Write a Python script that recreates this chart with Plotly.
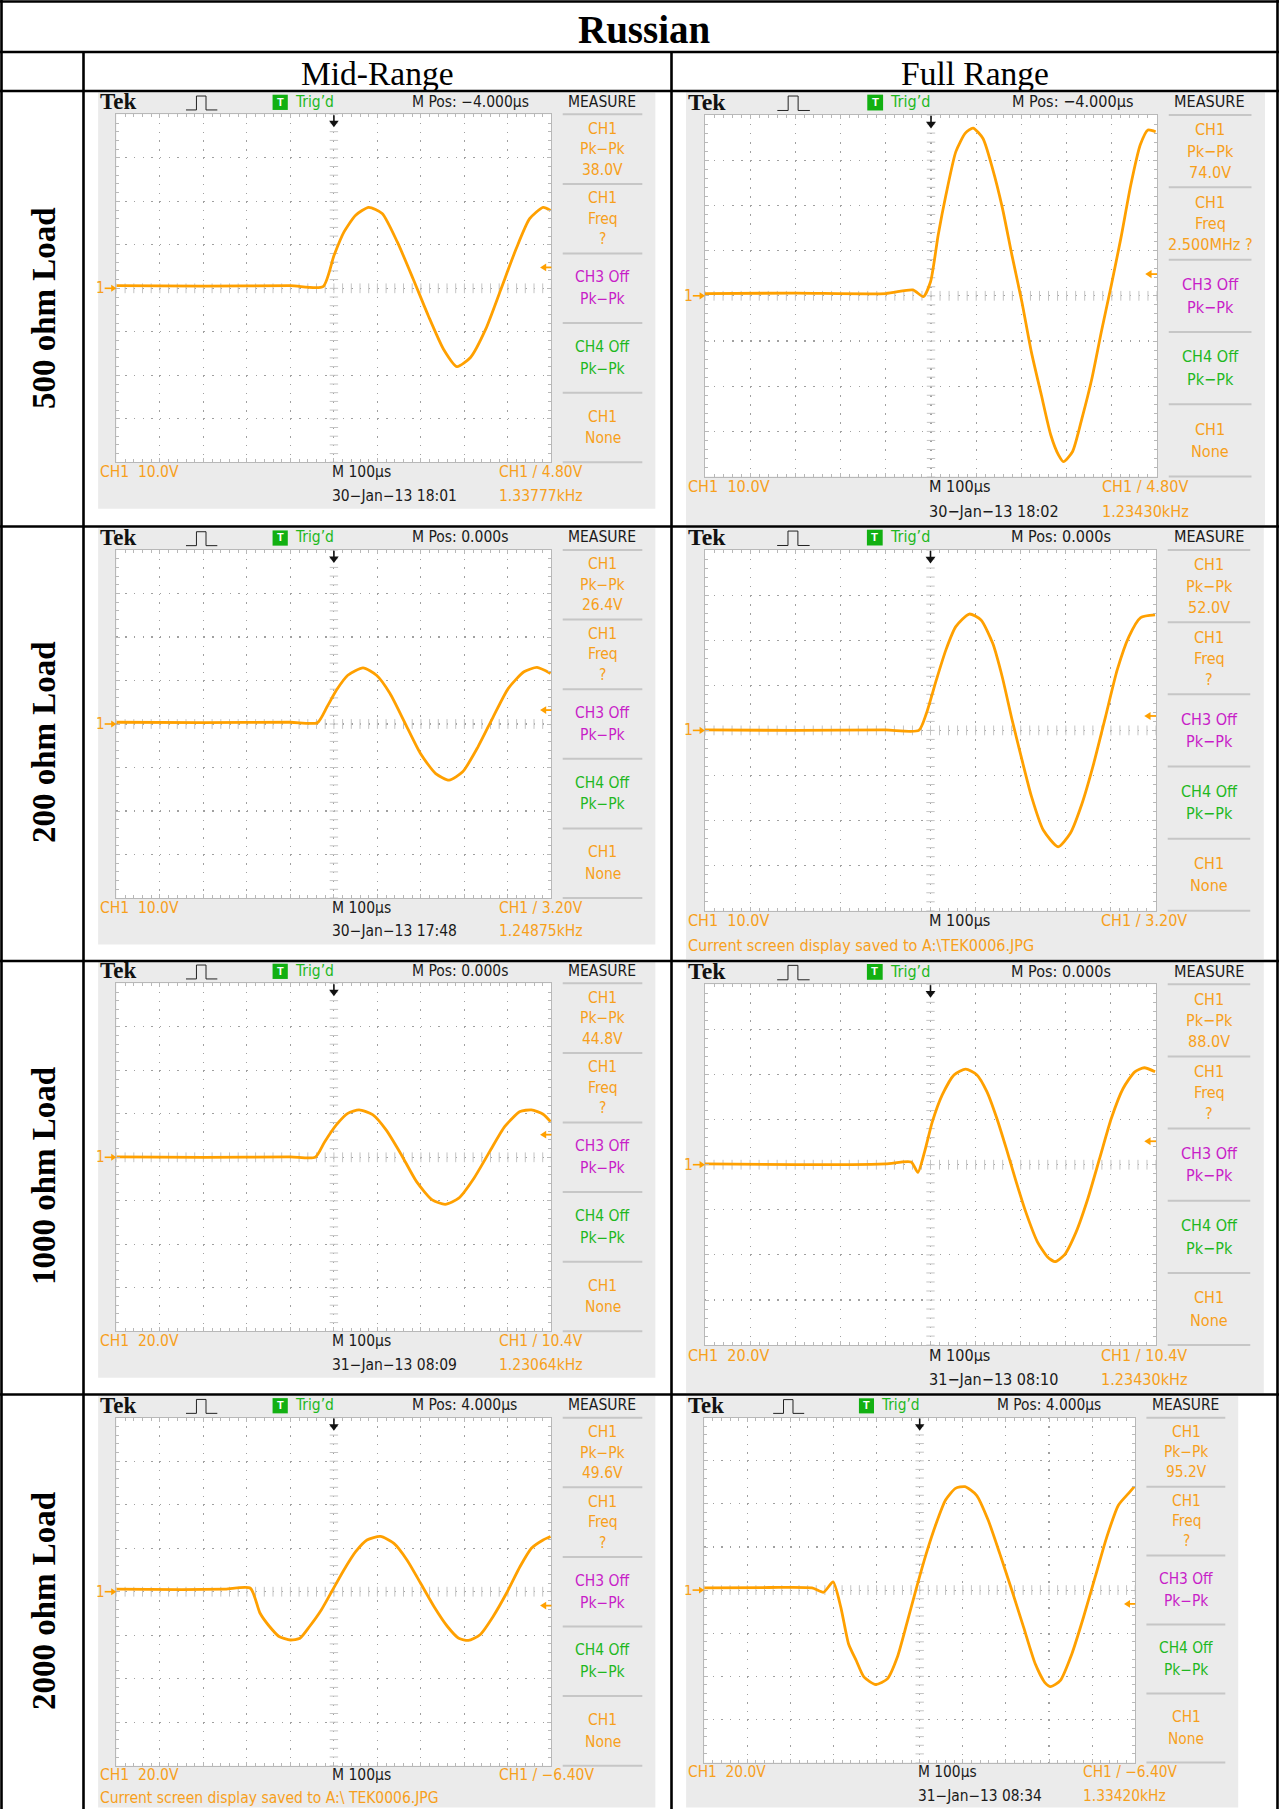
import numpy as np
import plotly.graph_objects as go

W, H = 1279, 1809

# ---------------- data (time in µs relative to trigger, volts) ----------------
t_500_mid = [-500, -300, -100, -25, 0, 23, 50, 80, 111, 146, 182, 217, 252, 283, 314, 349, 384, 419, 450, 481, 498]
v_500_mid = [0.6, 0.5, 0.6, 0.4, 7.5, 12.9, 16.8, 18.6, 17.2, 10.6, 2.2, -6.3, -14.0, -18.0, -15.9, -9.4, -0.2, 9.1, 16.0, 18.6, 17.9]

t_500_full = [-500, -300, -100, -40, -17, -1, 16, 33, 55, 76, 93, 115, 136, 158, 179, 201, 222, 244, 265, 282, 293, 313, 334, 356, 377, 399, 420, 442, 463, 480, 497]
v_500_full = [0.5, 0.6, 0.5, 1.3, -0.2, 3.1, 13.5, 22.3, 31.9, 36.0, 37.1, 34.8, 28.2, 19.4, 9.0, -1.3, -12.4, -21.9, -30.8, -35.2, -36.7, -34.5, -27.1, -18.3, -7.9, 2.4, 12.7, 24.5, 33.4, 36.7, 36.3]

t_200_mid = [-500, -300, -100, -38, -16, 6, 32, 67, 98, 129, 164, 199, 234, 265, 296, 331, 366, 401, 437, 467, 498]
v_200_mid = [0.4, 0.3, 0.4, 0.3, 3.9, 7.8, 11.2, 12.9, 11.2, 7.0, 0.1, -6.8, -11.4, -12.9, -11.0, -5.3, 1.6, 8.2, 12.0, 13.0, 11.6]

t_200_full = [-500, -300, -100, -26, -9, 13, 34, 56, 86, 112, 138, 159, 181, 203, 224, 250, 283, 310, 336, 362, 388, 414, 440, 466, 498]
v_200_full = [0.1, 0.0, 0.1, 0.0, 3.8, 11.2, 17.8, 23.0, 25.8, 24.5, 19.3, 11.9, 2.3, -6.6, -14.7, -22.1, -25.8, -22.8, -16.2, -7.3, 3.0, 13.4, 20.8, 25.0, 25.6]

t_1000_mid = [-500, -300, -100, -43, -21, 6, 32, 58, 89, 120, 155, 190, 226, 256, 287, 322, 358, 393, 428, 454, 481, 498]
v_1000_mid = [0.2, 0.0, 0.2, 0.0, 7.2, 15.0, 20.2, 21.8, 19.6, 12.6, 1.2, -11.2, -19.6, -21.6, -18.8, -9.6, 2.6, 14.2, 21.0, 21.8, 19.8, 16.4]

t_1000_full = [-500, -300, -100, -43, -28, -13, 4, 26, 52, 78, 103, 125, 147, 168, 190, 211, 237, 259, 276, 297, 323, 349, 375, 401, 427, 453, 474, 498]
v_1000_full = [0.4, 0.0, 0.4, 1.2, -3.4, 5.8, 19.0, 31.0, 39.8, 42.4, 39.8, 32.4, 20.6, 7.2, -7.6, -20.8, -34.2, -40.8, -43.0, -40.0, -29.8, -15.0, 2.8, 20.6, 33.8, 41.2, 43.0, 41.2]

t_2000_mid = [-500, -350, -250, -192, -170, -148, -126, -100, -78, -56, -29, -3, 23, 50, 76, 107, 138, 168, 199, 230, 261, 287, 309, 336, 366, 397, 428, 454, 481, 498]
v_2000_mid = [1.2, 1.0, 1.2, 1.6, -9.8, -16.0, -20.6, -22.2, -21.4, -16.0, -8.4, 0.8, 10.0, 18.4, 23.8, 25.4, 22.2, 14.6, 4.0, -6.8, -16.0, -21.4, -22.4, -19.8, -11.4, -0.6, 11.6, 20.0, 23.8, 25.4]

t_2000_full = [-500, -350, -250, -223, -201, -183, -165, -147, -129, -102, -75, -52, -30, -7, 15, 38, 60, 83, 105, 132, 159, 186, 214, 241, 268, 290, 304, 326, 353, 380, 407, 434, 461, 484, 498]
v_2000_full = [1.0, 1.2, 1.0, -1.0, 3.8, -8.0, -25.0, -32.8, -40.4, -43.8, -41.2, -31.2, -15.6, 1.4, 16.8, 30.8, 41.8, 47.2, 48.0, 44.0, 32.4, 16.8, -0.2, -17.2, -34.2, -42.8, -44.8, -42.0, -29.6, -12.6, 6.0, 24.6, 39.4, 44.8, 48.0]

TIMES = [t_500_mid, t_500_full, t_200_mid, t_200_full, t_1000_mid, t_1000_full, t_2000_mid, t_2000_full]
VOLTS = [v_500_mid, v_500_full, v_200_mid, v_200_full, v_1000_mid, v_1000_full, v_2000_mid, v_2000_full]

TITLE = "Russian"
COL_LABELS = ["Mid-Range", "Full Range"]
ROW_LABELS = ["500 ohm Load", "200 ohm Load", "1000 ohm Load", "2000 ohm Load"]

VDIV = [10, 10, 10, 10, 20, 20, 20, 20]
VDIV_TXT = ["10.0V", "10.0V", "10.0V", "10.0V", "20.0V", "20.0V", "20.0V", "20.0V"]
MPOS = ["M Pos: −4.000µs", "M Pos: −4.000µs", "M Pos: 0.000s", "M Pos: 0.000s",
        "M Pos: 0.000s", "M Pos: 0.000s", "M Pos: 4.000µs", "M Pos: 4.000µs"]
PKPK = ["38.0V", "74.0V", "26.4V", "52.0V", "44.8V", "88.0V", "49.6V", "95.2V"]
FREQ = ["?", "2.500MHz ?", "?", "?", "?", "?", "?", "?"]
TRIG = [4.8, 4.8, 3.2, 3.2, 10.4, 10.4, -6.4, -6.4]
TRIG_TXT = ["4.80V", "4.80V", "3.20V", "3.20V", "10.4V", "10.4V", "−6.40V", "−6.40V"]
DATE = ["30−Jan−13 18:01", "30−Jan−13 18:02", "30−Jan−13 17:48", None,
        "31−Jan−13 08:09", "31−Jan−13 08:10", None, "31−Jan−13 08:34"]
KHZ = ["1.33777kHz", "1.23430kHz", "1.24875kHz", None, "1.23064kHz", "1.23430kHz", None, "1.33420kHz"]
SAVED = ["", "", "", "Current screen display saved to A:\\TEK0006.JPG", "", "",
         "Current screen display saved to A:\\ TEK0006.JPG", ""]

# ---------------- geometry / styles ----------------
GEOM = [(116.4, 114.3, 43.5), (705.0, 115.0, 45.2),
        (116.4, 550.0, 43.5), (705.0, 550.0, 45.1),
        (116.4, 983.3, 43.5), (705.0, 984.3, 45.1),
        (116.4, 1417.7, 43.5), (704.2, 1417.7, 43.1)]
ROW_BOTTOM = [526.5, 526.5, 961, 961, 1394.5, 1394.5, 1809, 1809]

SCR = "Liberation Sans Narrow, Arial Narrow, DejaVu Sans Condensed, Roboto Condensed, Liberation Sans, Arial, sans-serif"
SERIF = "Liberation Serif, Times New Roman, DejaVu Serif, serif"
ORANGE = "#ffa000"
ORANGE_T = "#f7a01c"
MAGENTA = "#c81ec8"
GREEN_T = "#1fb81f"
BLACK_T = "#1a1a1a"
GRAYBG = "#ebebeb"
EDGE = "#b8b8b8"
CTICK = "#c4c4c4"
GRID = "#a0a0a0"
SEP = "#c6c6c6"

shapes, anns = [], []


def X(x):
    return x / W


def Y(y):
    return 1 - y / H


def rect(x0, y0, x1, y1, fill):
    shapes.append(dict(type='rect', xref='paper', yref='paper', x0=X(x0), x1=X(x1),
                       y0=Y(y1), y1=Y(y0), fillcolor=fill, line=dict(width=0), layer='below'))


def seg(x0, y0, x1, y1, color, w, layer='above'):
    shapes.append(dict(type='line', xref='paper', yref='paper', x0=X(x0), x1=X(x1),
                       y0=Y(y0), y1=Y(y1), line=dict(color=color, width=w), layer=layer))


def poly(pts, color, closed=True, lw=0):
    p = 'M ' + ' L '.join(f'{X(a):.6f},{Y(b):.6f}' for a, b in pts) + (' Z' if closed else '')
    shapes.append(dict(type='path', xref='paper', yref='paper', path=p,
                       fillcolor=color if closed else 'rgba(0,0,0,0)',
                       line=dict(color=color, width=lw)))


def txt(x, y, s, size, color, family=SCR, xa='left', ya='middle', angle=0):
    anns.append(dict(x=X(x), y=Y(y), xref='paper', yref='paper', text=s, showarrow=False,
                     xanchor=xa, yanchor=ya, textangle=angle,
                     font=dict(size=size, color=color, family=family)))


fig = go.Figure()
axes = {}

for i, (L, T, d) in enumerate(GEOM):
    k = d / 43.5
    fs = 15.5 * k
    vd = VDIV[i]
    # instrument screen background
    rect(L - 0.42 * d, T - 0.5 * d, L + 12.39 * d, min(T + 9.07 * d, ROW_BOTTOM[i] - 1.5), GRAYBG)
    rect(L, T, L + 10 * d, T + 8 * d, "white")

    n = i + 1
    xa = 'x' if n == 1 else f'x{n}'
    ya = 'y' if n == 1 else f'y{n}'
    dot = f"1.4px,{0.2 * d - 1.4:.2f}px"
    common = dict(showticklabels=False, zeroline=False, showgrid=True, gridcolor=GRID,
                  griddash=dot, gridwidth=1.1, ticks='inside', ticklen=4, tickcolor=EDGE,
                  showline=True, linecolor=EDGE, linewidth=1, mirror='allticks', fixedrange=True)
    axes['xaxis' if n == 1 else f'xaxis{n}'] = dict(
        domain=[X(L), X(L + 10 * d)], range=[-500, 500], anchor=ya, tick0=0, dtick=100,
        minor=dict(dtick=20, tick0=0, ticks='inside', ticklen=3, tickcolor=EDGE, showgrid=False), **common)
    axes['yaxis' if n == 1 else f'yaxis{n}'] = dict(
        domain=[Y(T + 8 * d), Y(T)], range=[-4 * vd, 4 * vd], anchor=xa, tick0=0, dtick=vd,
        minor=dict(dtick=vd / 5, tick0=0, ticks='inside', ticklen=3, tickcolor=EDGE, showgrid=False), **common)

    # centre-cross graticule ticks
    cy = np.arange(-20, 21) * vd / 5
    cx = np.arange(-25, 26) * 20
    fig.add_trace(go.Scatter(x=np.zeros_like(cy), y=cy, mode='markers', xaxis=xa, yaxis=ya,
                             marker=dict(symbol='line-ew', size=6, line=dict(color=CTICK, width=1)),
                             hoverinfo='skip', showlegend=False))
    fig.add_trace(go.Scatter(x=cx, y=np.zeros_like(cx, dtype=float), mode='markers', xaxis=xa, yaxis=ya,
                             marker=dict(symbol='line-ns', size=7, line=dict(color=CTICK, width=1)),
                             hoverinfo='skip', showlegend=False))
    # waveform
    fig.add_trace(go.Scatter(x=TIMES[i], y=VOLTS[i], mode='lines', xaxis=xa, yaxis=ya,
                             line=dict(color=ORANGE, width=2.8, shape='spline', smoothing=0.6),
                             hoverinfo='skip', showlegend=False))

    # top status line
    ty = T - 0.29 * d
    txt(L - 0.42 * d, ty, "<b>Tek</b>", 23 * k, "#111111", family=SERIF)
    cxp = L + 1.96 * d
    yb, yt = T - 0.1 * d, T - 0.42 * d
    poly([(cxp - 0.36 * d, yb), (cxp - 0.12 * d, yb), (cxp - 0.12 * d, yt), (cxp + 0.1 * d, yt),
          (cxp + 0.1 * d, yb), (cxp + 0.36 * d, yb)], "#222222", closed=False, lw=1)
    shapes.append(dict(type='rect', xref='paper', yref='paper', x0=X(L + 3.59 * d), x1=X(L + 3.94 * d),
                       y0=Y(T - 0.1 * d), y1=Y(T - 0.45 * d), fillcolor="#12b012", line=dict(width=0)))
    txt(L + 3.765 * d, ty, "<b>T</b>", 11 * k, "white", family="Liberation Sans, Arial", xa='center')
    txt(L + 4.05 * d, ty, "Trig’d", fs, GREEN_T)
    txt(L + 6.75 * d, ty, MPOS[i], fs, BLACK_T)
    txt(L + 11.17 * d, ty, "MEASURE", fs, BLACK_T, xa='center')

    # trigger position arrow (top, black)
    ax0 = L + 5 * d
    seg(ax0, T + 0.02 * d, ax0, T + 0.2 * d, "#111111", 1.6)
    poly([(ax0 - 0.11 * d, T + 0.15 * d), (ax0 + 0.11 * d, T + 0.15 * d), (ax0, T + 0.3 * d)], "#111111")

    # ground marker "1 ->"
    gy = T + 4 * d
    txt(L - 0.36 * d, gy, "1", 15 * k, ORANGE_T, xa='center')
    seg(L - 0.27 * d, gy, L - 0.08 * d, gy, ORANGE, 1.6)
    poly([(L - 0.12 * d, gy - 0.08 * d), (L - 0.12 * d, gy + 0.08 * d), (L, gy)], ORANGE)

    # trigger level arrow (right edge)
    tly = T + 4 * d - TRIG[i] / vd * d
    seg(L + 9.84 * d, tly, L + 10.0 * d, tly, ORANGE, 1.8)
    poly([(L + 9.74 * d, tly), (L + 9.88 * d, tly - 0.09 * d), (L + 9.88 * d, tly + 0.09 * d)], ORANGE)

    # measure panel
    mx = L + 11.18 * d
    for j in range(6):
        seg(L + 10.26 * d, T + 1.6 * j * d, L + 12.09 * d, T + 1.6 * j * d, SEP, 2)
    blocks = [
        (["CH1", "Pk−Pk", PKPK[i]], ORANGE_T, 0.47),
        (["CH1", "Freq", FREQ[i]], ORANGE_T, 0.47),
        (["CH3 Off", "Pk−Pk"], MAGENTA, 0.5),
        (["CH4 Off", "Pk−Pk"], GREEN_T, 0.5),
        (["CH1", "None"], ORANGE_T, 0.5),
    ]
    for j, (lines, col, sp) in enumerate(blocks):
        c = T + (0.8 + 1.6 * j) * d
        nl = len(lines)
        for m, s in enumerate(lines):
            yy = c + (m - (nl - 1) / 2) * sp * d
            txt(mx, yy, s, fs, col, xa='center')

    # bottom status lines
    r1 = T + 8.22 * d
    r2 = min(T + 8.77 * d, H - 11)
    txt(L - 0.42 * d, r1, "CH1  " + VDIV_TXT[i], fs, ORANGE_T)
    txt(L + 4.92 * d, r1, "M 100µs", fs, BLACK_T)
    txt(L + 8.74 * d, r1, "CH1 / " + TRIG_TXT[i], fs, ORANGE_T)
    if SAVED[i]:
        txt(L - 0.42 * d, r2, SAVED[i], fs, ORANGE_T)
    else:
        txt(L + 4.92 * d, r2, DATE[i], fs, BLACK_T)
        txt(L + 8.74 * d, r2, KHZ[i], fs, ORANGE_T)

# ---------------- table frame and headings ----------------
LW = 2.6
for yy in [1.5, 52, 91, 526.5, 961, 1394.5]:
    seg(0, yy, W, yy, "black", LW)
seg(1.5, 0, 1.5, H, "black", LW)
seg(1277.5, 0, 1277.5, H, "black", LW)
seg(83.5, 52, 83.5, H, "black", LW)
seg(671.5, 52, 671.5, H, "black", LW)

txt(644, 29, "<b>" + TITLE + "</b>", 39, "black", family=SERIF, xa='center')
txt(377, 73, COL_LABELS[0], 33.5, "black", family=SERIF, xa='center')
txt(975, 73, COL_LABELS[1], 33.5, "black", family=SERIF, xa='center')
for lab, yc in zip(ROW_LABELS, [308, 742, 1176, 1601]):
    txt(44, yc, "<b>" + lab + "</b>", 33, "black", family=SERIF, xa='center', angle=-90)

fig.update_layout(width=W, height=H, autosize=False, margin=dict(l=0, r=0, t=0, b=0, pad=0),
                  paper_bgcolor="white", plot_bgcolor="white", showlegend=False,
                  shapes=shapes, annotations=anns, hovermode=False, **axes)
fig.write_html("out.html", config=dict(displayModeBar=False, staticPlot=True),
               post_script="document.body.style.margin='0';document.body.style.overflow='hidden';")
